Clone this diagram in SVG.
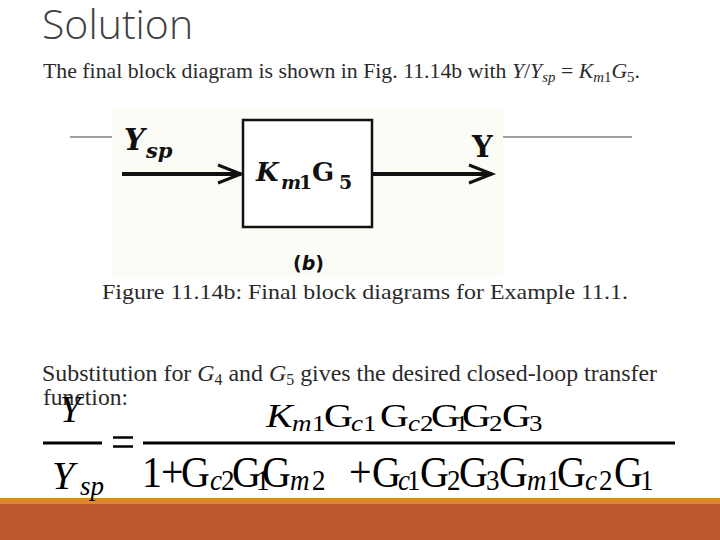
<svg xmlns="http://www.w3.org/2000/svg" width="720" height="540" viewBox="0 0 720 540">
<defs>
<style>
.title{font-family:"Open Sans","Lato",sans-serif;font-weight:300;font-size:41px;fill:#404040}
.body{font-family:"Liberation Serif","Times New Roman",serif;fill:#2a2a2a}
.it{font-style:italic}
.eq{font-family:"Liberation Serif","Times New Roman",serif;fill:#000}
.m{font-size:40px}
.s{font-size:27px}
.bd{font-family:"DejaVu Serif",serif;font-weight:bold;fill:#111}
.gray{stroke:#808080;stroke-width:1.5}
.wire{stroke:#111;stroke-width:4;fill:none}
.bar{stroke:#000;stroke-width:3}
</style>
<marker id="arr" markerUnits="userSpaceOnUse" markerWidth="30" markerHeight="24" refX="25" refY="11" orient="auto">
<path d="M2,2 L25,11 L2,20" fill="none" stroke="#111" stroke-width="3"/>
</marker>
</defs>
<rect width="720" height="540" fill="#fff"/>
<rect x="0" y="498" width="720" height="6" fill="#e08a1e"/>
<rect x="0" y="504" width="720" height="36" fill="#bd592d"/>
<text class="title" x="42" y="39">Solution</text>
<text class="body" x="43" y="78" font-size="22" textLength="597" lengthAdjust="spacingAndGlyphs">The final block diagram is shown in Fig. 11.14b with <tspan class="it">Y</tspan>/<tspan class="it">Y<tspan font-size="15" dy="4">sp</tspan></tspan><tspan dy="-4"> = </tspan><tspan class="it">K<tspan font-size="15" dy="4">m</tspan></tspan><tspan font-size="15">1</tspan><tspan class="it" dy="-4">G</tspan><tspan font-size="15" dy="4">5</tspan><tspan dy="-4">.</tspan></text>
<rect x="112" y="107" width="391" height="171" fill="#fcfcf7"/>
<line class="gray" x1="70" y1="137" x2="112" y2="137"/>
<line class="gray" x1="503" y1="137" x2="632" y2="137"/>
<g id="connectors">
<line class="wire" x1="122" y1="174" x2="241" y2="174" marker-end="url(#arr)"/>
<line class="wire" x1="372" y1="174" x2="492" y2="174" marker-end="url(#arr)"/>
</g>
<g id="input">
<text class="bd" x="124" y="150" font-size="29" font-style="italic">Y</text>
<text class="bd" x="146" y="158" font-size="21" font-style="italic">sp</text>
</g>
<g id="block">
<rect x="243" y="120" width="129" height="107" fill="#fff" stroke="#111" stroke-width="2.5"/>
<text class="bd" y="181"><tspan x="256" font-size="26" font-style="italic">K</tspan><tspan x="281" y="189" font-size="19" font-style="italic">m</tspan><tspan x="299" y="189" font-size="19">1</tspan><tspan x="312" y="181" font-size="26">G</tspan><tspan x="339" y="189" font-size="19">5</tspan></text>
</g>
<g id="output">
<text class="bd" x="472" y="157" font-size="29">Y</text>
</g>
<text x="293" y="270" font-family="DejaVu Sans,sans-serif" font-weight="bold" font-size="20" fill="#111" textLength="31" lengthAdjust="spacingAndGlyphs">(<tspan font-style="italic">b</tspan>)</text>
<text class="body" x="102" y="299" font-size="22" fill="#000" textLength="526" lengthAdjust="spacingAndGlyphs">Figure 11.14b: Final block diagrams for Example 11.1.</text>
<text class="body" x="42" y="381" font-size="24" textLength="615" lengthAdjust="spacingAndGlyphs">Substitution for <tspan class="it">G</tspan><tspan font-size="16" dy="4">4</tspan><tspan dy="-4"> and </tspan><tspan class="it">G</tspan><tspan font-size="16" dy="4">5</tspan><tspan dy="-4"> gives the desired closed-loop transfer</tspan></text>
<text class="body" x="43" y="405" font-size="24" textLength="85" lengthAdjust="spacingAndGlyphs">function:</text>
<g id="equation">
<text class="eq it" x="60" y="422" font-size="37">Y</text>
<line class="bar" x1="43" y1="443" x2="102" y2="443"/>
<text class="eq it" x="52" y="489" font-size="40">Y</text>
<text class="eq it" x="80" y="495" font-size="27">sp</text>
<line x1="113" y1="437.5" x2="133" y2="437.5" stroke="#000" stroke-width="2.5"/>
<line x1="113" y1="446.5" x2="133" y2="446.5" stroke="#000" stroke-width="2.5"/>
<line class="bar" x1="143" y1="443" x2="675" y2="443"/>
<text class="eq" transform="translate(0,427) scale(1,0.86)"><tspan class="m it" x="266" y="0">K</tspan><tspan class="s it" x="292" y="4.5">m</tspan><tspan class="s" x="312" y="4.5">1</tspan><tspan class="m" x="324" y="0">G</tspan><tspan class="s it" x="351" y="4.5">c</tspan><tspan class="s" x="363" y="4.5">1</tspan><tspan class="m" x="380" y="0">G</tspan><tspan class="s it" x="408" y="4.5">c</tspan><tspan class="s" x="420" y="4.5">2</tspan><tspan class="m" x="431" y="0">G</tspan><tspan class="s" x="455" y="4.5">1</tspan><tspan class="m" x="462" y="0">G</tspan><tspan class="s" x="489" y="4.5">2</tspan><tspan class="m" x="502" y="0">G</tspan><tspan class="s" x="529" y="4.5">3</tspan></text>
<text class="eq" transform="translate(0,487) scale(1,1.09)"><tspan class="m" x="142" y="0">1</tspan><tspan class="m" x="161" y="0">+</tspan><tspan class="m" x="181" y="0">G</tspan><tspan class="s it" x="210" y="2.5">c</tspan><tspan class="s" x="221" y="2.5">2</tspan><tspan class="m" x="232" y="0">G</tspan><tspan class="s" x="256" y="2.5">1</tspan><tspan class="m" x="262" y="0">G</tspan><tspan class="s it" x="290" y="2.5">m</tspan><tspan class="s" x="312" y="2.5">2</tspan><tspan class="m" x="349" y="0">+</tspan><tspan class="m" x="372" y="0">G</tspan><tspan class="s it" x="398" y="2.5">c</tspan><tspan class="s" x="407" y="2.5">1</tspan><tspan class="m" x="420" y="0">G</tspan><tspan class="s" x="447" y="2.5">2</tspan><tspan class="m" x="459" y="0">G</tspan><tspan class="s" x="486" y="2.5">3</tspan><tspan class="m" x="499" y="0">G</tspan><tspan class="s it" x="527" y="2.5">m</tspan><tspan class="s" x="547" y="2.5">1</tspan><tspan class="m" x="557" y="0">G</tspan><tspan class="s it" x="585" y="2.5">c</tspan><tspan class="s" x="599" y="2.5">2</tspan><tspan class="m" x="614" y="0">G</tspan><tspan class="s" x="640" y="2.5">1</tspan></text>
</g>
</svg>
